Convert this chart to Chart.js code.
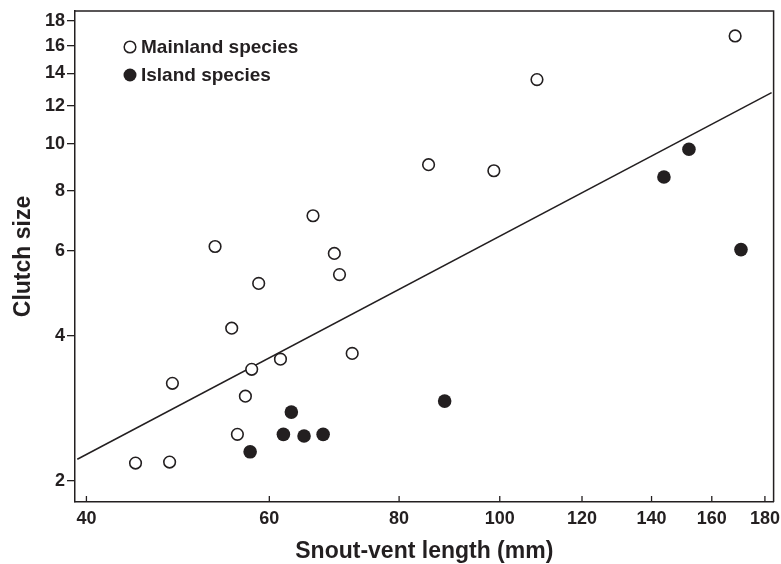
<!DOCTYPE html>
<html>
<head>
<meta charset="utf-8">
<script src="https://cdn.jsdelivr.net/npm/chart.js@4/dist/chart.umd.min.js"></script>
<style>
  html, body { margin: 0; padding: 0; background: #fff; }
  canvas { display: block; }
</style>
</head>
<body>
<canvas id="myChart" width="781" height="564"></canvas>
<script>
// data (snout-vent length in mm, clutch size)
const mainlandSVL    = [53.2, 66.1, 69.3, 70.1, 58.6, 85.4, 98.7, 108.6, 168.5, 55.2, 61.5, 57.7, 72.1, 48.4, 56.9, 55.9, 44.6, 48.1];
const mainlandClutch = [6.13, 7.10, 5.93, 5.36, 5.14, 9.06, 8.80, 13.6, 16.75, 4.15, 3.58, 3.41, 3.68, 3.19, 3.00, 2.50, 2.18, 2.19];
const islandSVL      = [152.1, 143.9, 170.7, 88.5, 63.0, 61.9, 64.8, 67.6, 57.5];
const islandClutch   = [9.75, 8.54, 6.04, 2.93, 2.78, 2.50, 2.48, 2.50, 2.30];
const fitSVL         = [39.2, 182.7];
const fitClutch      = [2.22, 12.78];

const xTicks = [40, 60, 80, 100, 120, 140, 160, 180];
const yTicks = [2, 4, 6, 8, 10, 12, 14, 16, 18];

const INK = '#231f20';
const FONT = "'Liberation Sans', Arial, sans-serif";

function toPoints(xs, ys) {
  return xs.map((x, i) => ({ x: x, y: ys[i] }));
}

// box on top/right, inward x ticks, legend inside the plot
const framePlugin = {
  id: 'frame',
  afterDraw(chart) {
    const { ctx, chartArea: a, scales } = chart;
    ctx.save();
    ctx.strokeStyle = INK;
    ctx.lineWidth = 1.5;
    ctx.beginPath();
    ctx.moveTo(a.left, a.top);
    ctx.lineTo(a.right, a.top);
    ctx.lineTo(a.right, a.bottom);
    ctx.stroke();

    ctx.lineWidth = 1.3;
    xTicks.forEach(v => {
      const px = scales.x.getPixelForValue(v);
      ctx.beginPath();
      ctx.moveTo(px, a.bottom);
      ctx.lineTo(px, a.bottom - 6);
      ctx.stroke();
    });

    // legend
    const items = [
      { label: 'Mainland species', filled: false, y: a.top + 36 },
      { label: 'Island species',   filled: true,  y: a.top + 64 }
    ];
    ctx.font = 'bold 19px ' + FONT;
    ctx.textBaseline = 'middle';
    ctx.textAlign = 'left';
    items.forEach(it => {
      ctx.beginPath();
      ctx.arc(a.left + 55, it.y, it.filled ? 6.5 : 5.8, 0, Math.PI * 2);
      if (it.filled) {
        ctx.fillStyle = INK;
        ctx.fill();
      } else {
        ctx.fillStyle = '#fff';
        ctx.fill();
        ctx.lineWidth = 1.5;
        ctx.stroke();
      }
      ctx.fillStyle = INK;
      ctx.fillText(it.label, a.left + 66, it.y + 1);
    });
    ctx.restore();
  }
};

const ctx = document.getElementById('myChart').getContext('2d');

const chart = new Chart(ctx, {
  type: 'scatter',
  data: {
    datasets: [
      {
        label: 'Fit',
        type: 'line',
        data: toPoints(fitSVL, fitClutch),
        borderColor: INK,
        borderWidth: 1.5,
        pointRadius: 0,
        fill: false,
        order: 3
      },
      {
        label: 'Mainland species',
        data: toPoints(mainlandSVL, mainlandClutch),
        pointRadius: 5.8,
        pointBackgroundColor: '#fff',
        pointBorderColor: INK,
        pointBorderWidth: 1.6,
        order: 1
      },
      {
        label: 'Island species',
        data: toPoints(islandSVL, islandClutch),
        pointRadius: 6.8,
        pointBackgroundColor: INK,
        pointBorderColor: INK,
        pointBorderWidth: 0,
        order: 2
      }
    ]
  },
  options: {
    responsive: false,
    animation: false,
    layout: { padding: { top: 11, right: 7, left: 0, bottom: 0 } },
    plugins: {
      legend: { display: false },
      tooltip: { enabled: false }
    },
    scales: {
      x: {
        type: 'logarithmic',
        min: 39,
        max: 183.5,
        afterBuildTicks: s => { s.ticks = xTicks.map(v => ({ value: v })); },
        afterFit: s => { s.height = 62; s.paddingLeft = 0; s.paddingRight = 0; },
        grid: { display: false, drawTicks: false },
        border: { display: true, color: INK, width: 1.5 },
        ticks: {
          autoSkip: false,
          maxRotation: 0,
          padding: 6,
          color: INK,
          font: { family: FONT, size: 18, weight: 'bold' },
          callback: v => String(v)
        },
        title: {
          display: true,
          text: 'Snout-vent length (mm)',
          color: INK,
          font: { family: FONT, size: 23, weight: 'bold', lineHeight: 1 },
          padding: { top: 0, bottom: 1 }
        }
      },
      y: {
        type: 'logarithmic',
        min: 1.81,
        max: 18.87,
        afterBuildTicks: s => { s.ticks = yTicks.map(v => ({ value: v })); },
        afterFit: s => { s.width = 75; s.paddingTop = 0; s.paddingBottom = 0; },
        grid: { drawOnChartArea: false, drawTicks: true, tickLength: 8, color: INK, lineWidth: 1.3 },
        border: { display: true, color: INK, width: 1.5 },
        ticks: {
          autoSkip: false,
          padding: 2,
          color: INK,
          font: { family: FONT, size: 18, weight: 'bold' },
          callback: v => String(v)
        },
        title: {
          display: true,
          text: 'Clutch size',
          color: INK,
          font: { family: FONT, size: 23, weight: 'bold', lineHeight: 1 },
          padding: { top: 12.5, bottom: 0 }
        }
      }
    }
  },
  plugins: [framePlugin]
});
</script>
</body>
</html>
